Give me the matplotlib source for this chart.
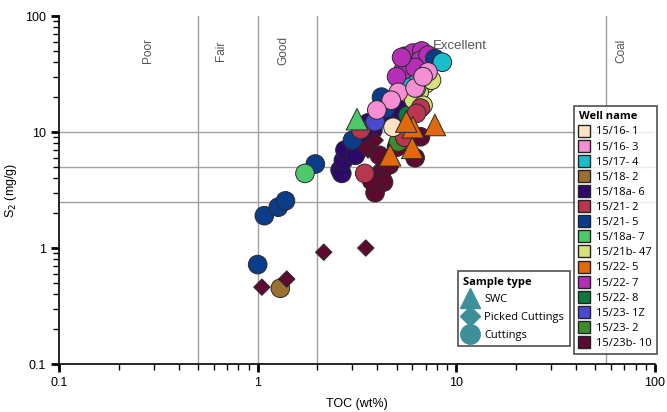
import matplotlib
matplotlib.use('Agg')
import matplotlib.pyplot as plt
import matplotlib.ticker as ticker
from matplotlib.lines import Line2D

# well names and their legend colours
wells = ['15/16- 1', '15/16- 3', '15/17- 4', '15/18- 2', '15/18a- 6', '15/21- 2', '15/21- 5',
         '15/18a- 7', '15/21b- 47', '15/22- 5', '15/22- 7', '15/22- 8', '15/23- 1Z', '15/23- 2',
         '15/23b- 10']
well_colors = ['#FCE3C6', '#F58ED3', '#17BFCC', '#9A7131', '#2D0A6A', '#B8364F', '#0B3C8A',
               '#4DC86B', '#D7E27B', '#E2680C', '#B52FB6', '#0D7A3D', '#4A4AD1', '#3E8B2D',
               '#5D0A31']

# cuttings (circles)
cut_well = ['15/21- 5', '15/21- 5', '15/21- 5', '15/21- 5', '15/21- 5', '15/18- 2', '15/18a- 7',
            '15/18a- 6', '15/18a- 6', '15/18a- 6', '15/18a- 6', '15/18a- 6', '15/18a- 6',
            '15/18a- 6', '15/18a- 6', '15/18a- 6', '15/18a- 6', '15/21- 5', '15/21- 5',
            '15/23b- 10', '15/23b- 10', '15/23b- 10', '15/23b- 10', '15/23b- 10', '15/23b- 10',
            '15/23b- 10', '15/23b- 10', '15/23b- 10',
            '15/21- 2', '15/21- 2', '15/23- 1Z', '15/22- 8', '15/23- 2',
            '15/21b- 47', '15/21b- 47', '15/21b- 47', '15/21b- 47', '15/21b- 47', '15/21b- 47',
            '15/17- 4', '15/17- 4', '15/21- 5', '15/21- 5',
            '15/22- 7', '15/22- 7', '15/22- 7', '15/22- 7', '15/22- 7', '15/22- 7', '15/22- 7',
            '15/22- 7', '15/22- 7',
            '15/21- 5', '15/17- 4',
            '15/16- 3', '15/16- 3', '15/16- 3', '15/16- 3', '15/16- 3', '15/16- 3',
            '15/21- 2', '15/21- 2', '15/21- 2', '15/16- 1']
cut_toc = [1.0, 1.08, 1.27, 1.38, 1.95, 1.3, 1.73,
           2.6, 2.65, 2.7, 2.75, 3.1, 3.3, 3.8, 4.4, 5.2, 3.6, 3.0, 4.4,
           4.2, 4.3, 3.9, 3.75, 4.6, 6.2, 6.6, 5.0, 4.1,
           3.46, 3.3, 3.9, 5.7, 5.1,
           7.0, 6.5, 6.1, 7.5, 6.8, 6.3,
           5.85, 6.4, 4.2, 5.5,
           5.6, 6.05, 6.7, 5.4, 6.6, 7.2, 5.0, 6.2, 5.3,
           7.8, 8.5,
           7.2, 5.1, 4.7, 3.98, 6.2, 6.8,
           6.6, 5.5, 6.3, 4.8]
cut_s2 = [0.72, 1.9, 2.25, 2.55, 5.3, 0.45, 4.4,
          4.7, 4.4, 5.7, 7.0, 6.3, 8.9, 10.4, 14.6, 15.5, 12.0, 8.5, 16.0,
          4.5, 3.7, 3.0, 3.8, 5.2, 6.0, 9.1, 7.4, 6.3,
          4.4, 10.5, 12.3, 14.0, 8.2,
          26.0, 22.0, 19.0, 28.0, 17.0, 24.0,
          27.0, 32.0, 20.0, 45.0,
          39.4, 48.0, 50.0, 34.0, 41.6, 46.0, 30.0, 36.0, 44.0,
          43.0, 40.0,
          33.0, 22.0, 18.8, 15.5, 24.0, 30.0,
          16.1, 9.0, 14.5, 11.0]

# picked cuttings (diamonds)
pc_well = ['15/23b- 10'] * 7
pc_toc = [1.05, 1.4, 2.15, 3.5, 3.9, 3.6, 3.5]
pc_s2 = [0.46, 0.54, 0.92, 1.0, 8.5, 7.0, 7.3]

# side wall cores (triangles)
swc_well = ['15/18a- 7', '15/22- 5', '15/22- 5', '15/22- 5', '15/22- 5', '15/22- 5']
swc_toc = [3.16, 6.05, 7.8, 6.0, 4.64, 5.6]
swc_s2 = [12.9, 11.0, 11.5, 7.3, 6.3, 12.3]

cmap = dict(zip(wells, well_colors))

fig = plt.figure(figsize=(6.67, 4.12), dpi=100)
ax = fig.add_axes([0.0885, 0.1165, 0.8935, 0.8445])
ax.set_xscale('log')
ax.set_yscale('log')
ax.set_xlim(0.1, 100)
ax.set_ylim(0.1, 100)

grid_c = '#a0a0a0'
for xv in [0.5, 1, 2, 57]:
    ax.axvline(xv, color=grid_c, lw=1, zorder=0)
for yv in [2.5, 5, 10]:
    ax.axhline(yv, color=grid_c, lw=1, zorder=0)

lab_c = '#555555'
for xv, name in [(0.28, 'Poor'), (0.65, 'Fair'), (1.34, 'Good'), (68, 'Coal')]:
    ax.text(xv, 50, name, rotation=90, ha='center', va='center', fontsize=8.5,
            color=lab_c, family='Liberation Sans')
ax.text(7.6, 55, 'Excellent', ha='left', va='center', fontsize=9.5, color=lab_c,
        family='Liberation Sans')

ec = '#2a2a2a'
ax.scatter(cut_toc, cut_s2, s=180, marker='o', c=[cmap[w] for w in cut_well],
           edgecolors=ec, linewidths=0.7, zorder=3)
ax.scatter(pc_toc, pc_s2, s=70, marker='D', c=[cmap[w] for w in pc_well],
           edgecolors=ec, linewidths=0.7, zorder=4)
ax.scatter(swc_toc, swc_s2, s=240, marker='^', c=[cmap[w] for w in swc_well],
           edgecolors=ec, linewidths=0.7, zorder=5)

for s in ['top', 'right']:
    ax.spines[s].set_visible(False)
ax.spines['left'].set_linewidth(1.2)
ax.spines['bottom'].set_linewidth(1.2)

fmt = ticker.FuncFormatter(lambda v, pos: f'{v:g}')
ax.xaxis.set_major_formatter(fmt)
ax.yaxis.set_major_formatter(fmt)
ax.xaxis.set_minor_formatter(ticker.NullFormatter())
ax.yaxis.set_minor_formatter(ticker.NullFormatter())
ax.tick_params(which='major', direction='out', length=6, width=2, labelsize=9)
ax.tick_params(which='minor', direction='out', length=4, width=1)
for lbl in ax.get_xticklabels() + ax.get_yticklabels():
    lbl.set_family('Liberation Sans')

ax.set_xlabel('TOC (wt%)', fontsize=9, family='Liberation Sans', labelpad=6)
ax.set_ylabel('S$_2$ (mg/g)', fontsize=9, family='Liberation Sans', labelpad=4)

legend_font = {'family': 'Open Sans', 'size': 8}

# well legend
well_handles = [Line2D([], [], marker='s', ls='', markersize=8.5, markerfacecolor=c,
                       markeredgecolor='#222222', markeredgewidth=1) for c in well_colors]
leg1 = fig.legend(well_handles, wells, loc='upper left', bbox_to_anchor=(0.861, 0.742),
                  title='Well name', frameon=True, fancybox=False, handlelength=0.9,
                  handletextpad=0.6, labelspacing=0.37, borderpad=0.45, borderaxespad=0,
                  prop=legend_font, title_fontsize=8)
leg1.get_title().set_fontweight('bold')
leg1.get_title().set_family('Open Sans')
leg1._legend_box.align = 'left'
leg1.get_frame().set_edgecolor('#222222')
leg1.get_frame().set_linewidth(1.2)

teal = '#3D8F9A'
type_handles = [Line2D([], [], marker='^', ls='', markersize=14, color=teal),
                Line2D([], [], marker='D', ls='', markersize=10, color=teal),
                Line2D([], [], marker='o', ls='', markersize=14, color=teal)]
leg2 = fig.legend(type_handles, ['SWC', 'Picked Cuttings', 'Cuttings'], loc='upper left',
                  bbox_to_anchor=(0.686, 0.342), title='Sample type', frameon=True,
                  fancybox=False, handlelength=1.3, handletextpad=0.6, labelspacing=0.6,
                  borderpad=0.5, borderaxespad=0, prop=legend_font, title_fontsize=8)
leg2.get_title().set_fontweight('bold')
leg2.get_title().set_family('Open Sans')
leg2._legend_box.align = 'left'
leg2.get_frame().set_edgecolor('#222222')
leg2.get_frame().set_linewidth(1.2)

fig.savefig('out.png', dpi=100)
